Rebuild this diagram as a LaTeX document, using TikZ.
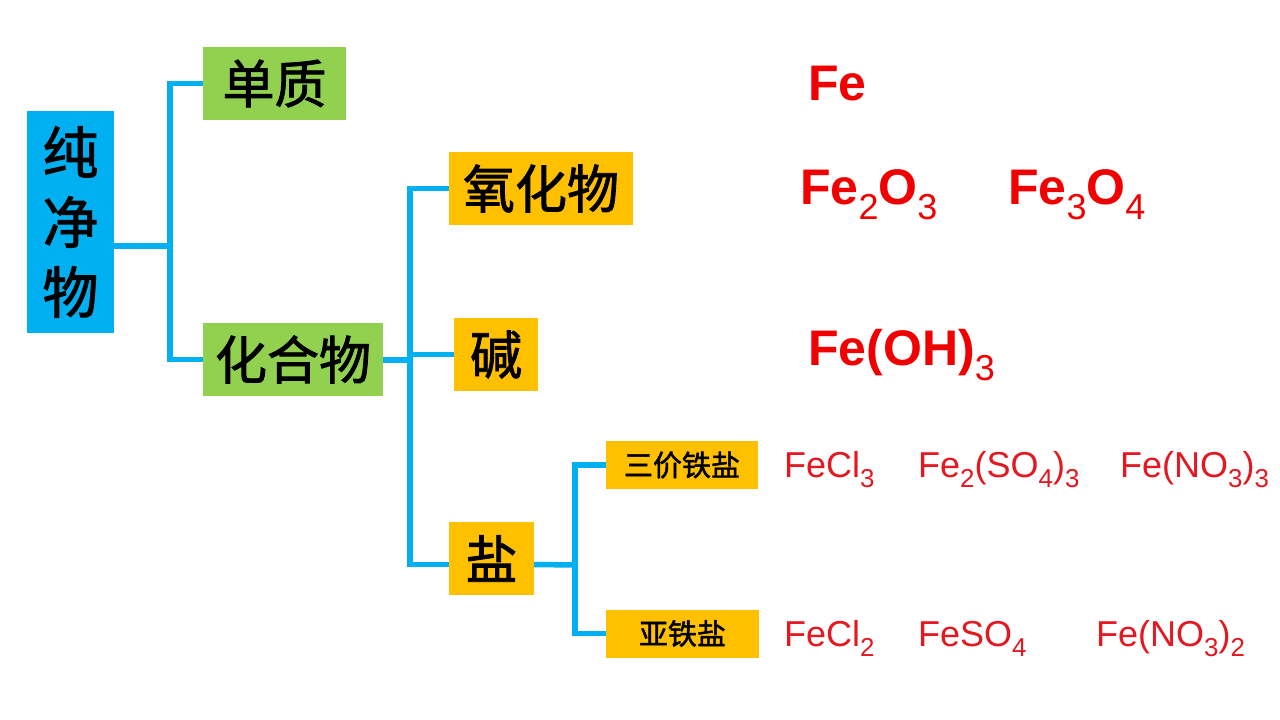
\documentclass[tikz,border=0pt]{standalone}
\usepackage{fontspec}
\setmainfont{Liberation Sans}
\newfontfamily\cjk{Noto Sans CJK SC}[FakeBold=1.6]
\definecolor{boxblue}{RGB}{0,176,240}
\definecolor{boxgreen}{RGB}{146,208,80}
\definecolor{boxorange}{RGB}{255,192,0}
\definecolor{linkblue}{RGB}{0,176,240}
\definecolor{fred}{RGB}{240,0,0}
\definecolor{sred}{RGB}{228,24,32}
\newcommand\chs[1]{\raisebox{-0.3em}{\scalebox{0.72}{\mdseries #1}}}
\begin{document}
\begin{tikzpicture}[x=1pt,y=-1pt,
  catbox/.style={inner sep=0pt,text=black,font=\cjk\fontsize{52}{60}\selectfont},
  smallbox/.style={inner sep=0pt,text=black,font=\cjk\fontsize{29}{34}\selectfont,fill=boxorange,minimum width=152pt,minimum height=48pt},
  conn/.style={draw=linkblue,line width=5.5pt},
  bigf/.style={anchor=base west,text=fred,font=\bfseries\fontsize{50}{60}\selectfont,inner sep=0pt},
  smallf/.style={anchor=base west,text=sred,font=\fontsize{36}{40}\selectfont,inner sep=0pt}]
\useasboundingbox[fill=white] (0,0) rectangle (1280,720);

% boxes
\node[catbox,fill=boxblue,minimum width=87pt,minimum height=222pt,align=center,
  font=\cjk\fontsize{56}{70}\selectfont] (pure) at (70.5,222) {纯\\净\\物};
\node[catbox,fill=boxgreen,minimum width=143pt,minimum height=73pt] (dz) at (274.5,83.5) {单质};
\node[catbox,fill=boxgreen,minimum width=180pt,minimum height=73pt] (hh) at (293,359.5) {化合物};
\node[catbox,fill=boxorange,minimum width=184pt,minimum height=73pt] (yh) at (541,188.5) {氧化物};
\node[catbox,fill=boxorange,minimum width=84pt,minimum height=73pt] (jian) at (496,354.5) {碱};
\node[catbox,fill=boxorange,minimum width=85pt,minimum height=73pt] (yan) at (491.5,558.5) {盐};
\node[smallbox] (sj) at (682,465) {三价铁盐};
\node[smallbox,minimum width=153pt] (yt) at (682.5,633.5) {亚铁盐};

% connectors
\coordinate (j1) at (170,246);
\coordinate (j2) at (410,360);
\coordinate (j3) at (575,565);
\draw[conn] (pure.east |- j1) -- (j1);
\draw[conn] (j1) |- (dz.west);
\draw[conn] (j1) |- (hh.west);
\draw[conn] (hh.east |- j2) -- (j2);
\draw[conn] (j2) |- (yh.west);
\draw[conn] (j2) |- (jian.west);
\draw[conn] (j2) |- ([yshift=-6pt]yan.west);
\draw[conn] ([yshift=-6pt]yan.east) -- (j3);
\draw[conn] (j3) |- (sj.west);
\draw[conn] (j3) |- (yt.west);

% formulas
\node[bigf] (fe) at (808,100) {Fe};
\node[bigf] (fe2o3) at (800,204) {Fe\chs{2}O\chs{3}};
\node[bigf] (fe3o4) at (1008,204) {Fe\chs{3}O\chs{4}};
\node[bigf] (feoh3) at (808,365) {Fe(OH)\chs{3}};
\node[smallf] (fecl3) at (784,477) {FeCl\chs{3}};
\node[smallf] (fe2so43) at (918,477) {Fe\chs{2}(SO\chs{4})\chs{3}};
\node[smallf] (feno33) at (1120,477) {Fe(NO\chs{3})\chs{3}};
\node[smallf] (fecl2) at (784,646) {FeCl\chs{2}};
\node[smallf] (feso4) at (918,646) {FeSO\chs{4}};
\node[smallf] (feno32) at (1096,646) {Fe(NO\chs{3})\chs{2}};
\end{tikzpicture}
\end{document}
